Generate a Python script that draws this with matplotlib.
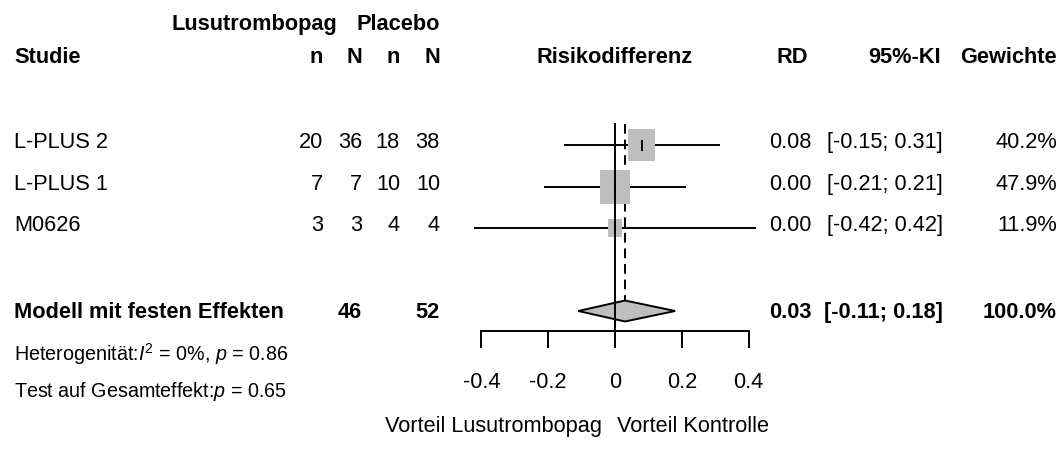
import matplotlib
matplotlib.use("Agg")
import numpy as np
import matplotlib.pyplot as plt
from matplotlib.patches import Rectangle, Polygon

plt.rcParams['font.family'] = ['Liberation Sans', 'DejaVu Sans']
plt.rcParams['mathtext.fontset'] = 'custom'
plt.rcParams['mathtext.rm'] = 'Liberation Sans'
plt.rcParams['mathtext.it'] = 'Liberation Sans:italic'

# Daten
studien = ["L-PLUS 2", "L-PLUS 1", "M0626"]
n_e = [20, 7, 3]
N_e = [36, 7, 3]
n_c = [18, 10, 4]
N_c = [38, 10, 4]
rd = [0.08, 0.00, 0.00]
ci_lo = [-0.15, -0.21, -0.42]
ci_hi = [0.31, 0.21, 0.42]
gewicht = [40.2, 47.9, 11.9]

pool_rd = 0.03
pool_lo = -0.11
pool_hi = 0.18
pool_Ne = 46
pool_Nc = 52
i2 = 0
p_het = 0.86
p_eff = 0.65

xticks = [-0.4, -0.2, 0, 0.2, 0.4]
xticklabels = ["-0.4", "-0.2", "0", "0.2", "0.4"]

W, H = 1062, 449
fig = plt.figure(figsize=(W / 100, H / 100), dpi=100)

# Textachse in Pixeln
ax_t = fig.add_axes([0, 0, 1, 1])
ax_t.set_xlim(0, W)
ax_t.set_ylim(H, 0)
ax_t.axis("off")

# Forest-Achse: x in RD-Einheiten
x0, scale = 615, 334
ax = fig.add_axes([0, 0, 1, 1])
ax.set_xlim((0 - x0) / scale, (W - x0) / scale)
ax.set_ylim(H, 0)
ax.axis("off")

fs = 15.7
fs_small = 14.2
row_y = [145, 187, 228]
pool_y = 311
axis_y = 331

def txt(x, y, s, ha="left", bold=False, size=fs):
    ax_t.text(x, y, s, ha=ha, va="baseline", fontsize=size,
              fontweight="bold" if bold else "normal")

# Kopfzeilen
txt(337, 30, "Lusutrombopag", ha="right", bold=True)
txt(440, 30, "Placebo", ha="right", bold=True)
txt(14, 63, "Studie", bold=True)
for xc, lab in zip([323, 362, 400, 440], ["n", "N", "n", "N"]):
    txt(xc, 63, lab, ha="right", bold=True)
txt(615, 63, "Risikodifferenz", ha="center", bold=True)
txt(792, 63, "RD", ha="center", bold=True)
txt(941, 63, "95%-KI", ha="right", bold=True)
txt(1057, 63, "Gewichte", ha="right", bold=True)

# Studienzeilen
for i, y in enumerate(row_y):
    b = y + 3
    txt(14, b, studien[i])
    txt(323, b, str(n_e[i]), ha="right")
    txt(362, b, str(N_e[i]), ha="right")
    txt(400, b, str(n_c[i]), ha="right")
    txt(440, b, str(N_c[i]), ha="right")
    txt(812, b, f"{rd[i]:.2f}", ha="right")
    txt(943, b, f"[{ci_lo[i]:.2f}; {ci_hi[i]:.2f}]", ha="right")
    txt(1057, b, f"{gewicht[i]:.1f}%", ha="right")

    ax.plot([ci_lo[i], ci_hi[i]], [y, y], color="black", lw=1.4, zorder=2)
    bw = 4.33 * np.sqrt(gewicht[i]) / scale
    bh = 5.05 * np.sqrt(gewicht[i])
    ax.add_patch(Rectangle((rd[i] - bw / 2, y - bh / 2), bw, bh,
                           facecolor="#BEBEBE", edgecolor="none", zorder=3))
    ax.plot([rd[i], rd[i]], [y - 4.5, y + 4.5], color="black", lw=1.4, zorder=4)

# Gepoolte Zeile
b = pool_y + 7
txt(14, b, "Modell mit festen Effekten", bold=True)
txt(362, b, str(pool_Ne), ha="right", bold=True)
txt(440, b, str(pool_Nc), ha="right", bold=True)
txt(812, b, f"{pool_rd:.2f}", ha="right", bold=True)
txt(943, b, f"[{pool_lo:.2f}; {pool_hi:.2f}]", ha="right", bold=True)
txt(1057, b, "100.0%", ha="right", bold=True)

diamond = Polygon([[pool_lo, pool_y], [pool_rd, pool_y - 10.5],
                   [pool_hi, pool_y], [pool_rd, pool_y + 10.5]],
                  closed=True, facecolor="#BEBEBE", edgecolor="black",
                  lw=1.4, zorder=3)
ax.add_patch(diamond)

# Referenzlinien
ax.plot([0, 0], [124, axis_y], color="black", lw=1.4, zorder=5)
ax.plot([pool_rd, pool_rd], [124, pool_y - 10.5], color="black", lw=1.4,
        ls=(0, (5, 3)), zorder=1)

# x-Achse
ax.plot([xticks[0], xticks[-1]], [axis_y, axis_y], color="black", lw=1.4)
for xt, lab in zip(xticks, xticklabels):
    ax.plot([xt, xt], [axis_y, axis_y + 16], color="black", lw=1.4)
    ax.text(xt, 388, lab, ha="center", va="baseline", fontsize=fs)

ax.text(-0.039, 432, "Vorteil Lusutrombopag", ha="right", va="baseline", fontsize=fs)
ax.text(0.006, 432, "Vorteil Kontrolle", ha="left", va="baseline", fontsize=fs)

# Heterogenität
txt(14, 361, rf"Heterogenität:$\mathit{{I}}^2$ = {i2}%, $\mathit{{p}}$ = {p_het:.2f}",
    size=fs_small)
txt(14, 397, rf"Test auf Gesamteffekt:$\mathit{{p}}$ = {p_eff:.2f}", size=fs_small)

fig.savefig("out.png", dpi=100)
